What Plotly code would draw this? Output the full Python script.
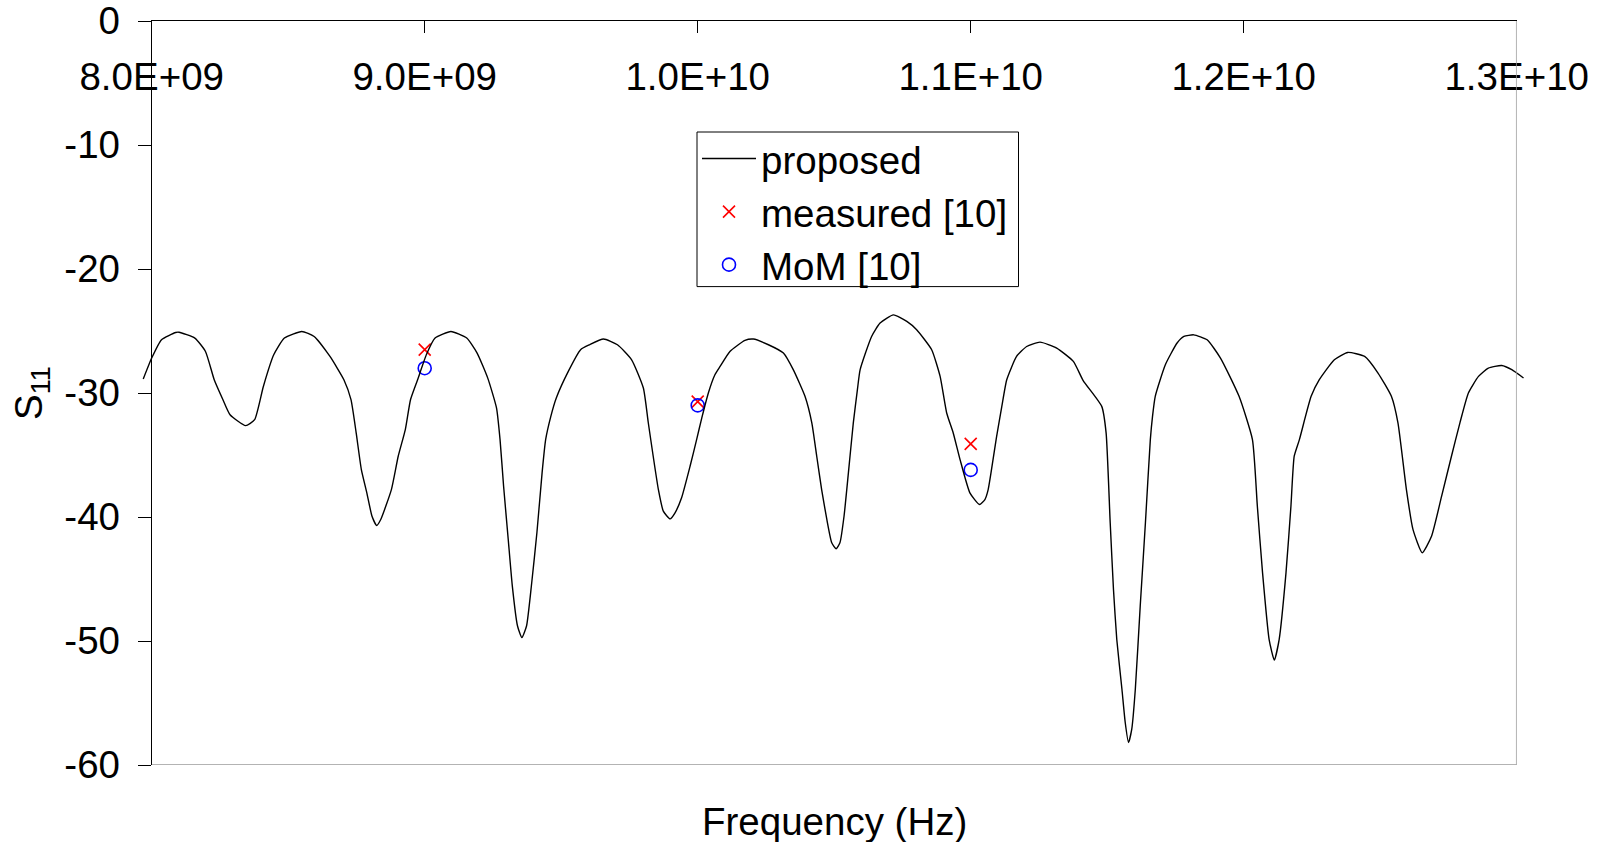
import plotly.graph_objects as go

# ---- data (frequency in GHz, S11 in dB) ----
freq_ghz = [7.969, 8.000, 8.036, 8.088, 8.100, 8.158, 8.197, 8.229, 8.261, 8.287, 8.344, 8.377, 8.409, 8.447,
            8.486, 8.550, 8.595, 8.653, 8.704, 8.730, 8.749, 8.768, 8.788, 8.807, 8.824, 8.839, 8.878, 8.903,
            8.929, 8.948, 8.974, 9.006, 9.038, 9.096, 9.154, 9.192, 9.231, 9.263, 9.276, 9.289, 9.306, 9.321,
            9.340, 9.356, 9.373, 9.392, 9.411, 9.430, 9.443, 9.462, 9.482, 9.526, 9.571, 9.604, 9.655, 9.706,
            9.758, 9.801, 9.819, 9.837, 9.856, 9.874, 9.899, 9.917, 9.941, 9.972, 9.996, 10.015, 10.039, 10.063,
            10.082, 10.118, 10.173, 10.204, 10.259, 10.314, 10.350, 10.393, 10.418, 10.436, 10.454, 10.473,
            10.491, 10.507, 10.521, 10.536, 10.552, 10.570, 10.585, 10.595, 10.637, 10.668, 10.717, 10.766,
            10.802, 10.857, 10.888, 10.912, 10.936, 10.961, 10.997, 11.032, 11.052, 11.064, 11.095, 11.114,
            11.132, 11.168, 11.205, 11.254, 11.315, 11.376, 11.412, 11.480, 11.496, 11.511, 11.523, 11.535,
            11.554, 11.566, 11.578, 11.590, 11.603, 11.621, 11.640, 11.658, 11.666, 11.676, 11.713, 11.756,
            11.781, 11.817, 11.866, 11.915, 11.983, 12.032, 12.050, 12.069, 12.093, 12.112, 12.130, 12.155,
            12.173, 12.185, 12.204, 12.247, 12.277, 12.332, 12.381, 12.443, 12.492, 12.541, 12.565, 12.596,
            12.620, 12.654, 12.688, 12.725, 12.761, 12.792, 12.823, 12.860, 12.896, 12.945, 12.982, 13.025]
s11_proposed = [-28.87, -27.18, -25.70, -25.12, -25.10, -25.57, -26.65, -28.93, -30.54, -31.75, -32.63, -32.15,
                -29.47, -26.92, -25.57, -25.04, -25.44, -27.05, -28.93, -30.54, -33.22, -36.18, -38.05, -39.94,
                -40.68, -40.20, -37.79, -35.10, -32.95, -30.54, -28.93, -26.92, -25.57, -25.04, -25.57, -26.78,
                -28.80, -31.20, -33.76, -37.52, -41.81, -45.57, -48.79, -49.73, -48.79, -45.30, -41.27, -36.44,
                -33.76, -31.88, -30.40, -28.26, -26.51, -26.11, -25.65, -26.11, -27.32, -29.60, -32.40, -35.10,
                -37.79, -39.53, -40.15, -39.66, -38.45, -35.91, -33.76, -32.01, -30.00, -28.53, -27.86, -26.65,
                -25.76, -25.65, -26.11, -26.78, -28.12, -30.27, -32.41, -35.10, -37.79, -40.20, -42.08, -42.56,
                -42.08, -39.94, -36.44, -32.41, -29.73, -28.12, -25.44, -24.36, -23.70, -24.23, -24.90, -26.51,
                -28.66, -31.61, -33.22, -35.37, -38.05, -38.99, -38.59, -37.79, -33.49, -31.08, -28.93, -27.05,
                -26.25, -25.90, -26.38, -27.45, -29.00, -31.08, -33.22, -40.47, -45.84, -49.86, -53.89, -56.57,
                -58.18, -57.10, -53.89, -47.18, -40.47, -33.76, -31.88, -30.27, -27.72, -25.97, -25.44, -25.31,
                -25.71, -27.18, -30.27, -33.76, -39.13, -44.49, -49.86, -51.53, -49.86, -44.49, -39.13, -35.10,
                -33.76, -30.27, -28.93, -27.32, -26.73, -27.05, -28.39, -30.27, -32.41, -37.79, -41.00, -42.88,
                -41.55, -38.32, -35.10, -32.41, -30.00, -28.66, -27.99, -27.78, -28.12, -28.79]

point_freq_hz = [9.0e9, 1.0e10, 1.1e10]
s11_measured = [-26.5, -30.7, -34.1]
s11_mom = [-28.0, -31.0, -36.2]

x_tickvals = [8.0e9, 9.0e9, 1.0e10, 1.1e10, 1.2e10, 1.3e10]
x_ticktext = ["8.0E+09", "9.0E+09", "1.0E+10", "1.1E+10", "1.2E+10", "1.3E+10"]
y_tickvals = [0, -10, -20, -30, -40, -50, -60]
y_ticktext = ["0", "-10", "-20", "-30", "-40", "-50", "-60"]

freq_hz = [f * 1e9 for f in freq_ghz]

# ---- layout geometry ----
W, H = 1605, 842
ML, MR, MT, MB = 142, 78, 21, 77
PW = W - ML - MR
PH = H - MT - MB
ax_left, ax_right = 151.7, 1516.7
d0 = (ax_left - ML) / PW
d1 = (ax_right - ML) / PW
x0, x1 = 8.0e9, 1.3e10
span = x1 - x0
per = span / (d1 - d0)
x2_range = [x0 - d0 * per, x1 + (1 - d1) * per]


def px_x(p):
    return (p - ML) / PW


def px_y(p):
    return 1 - (p - MT) / PH


FONT = "Arial, Liberation Sans, sans-serif"
FS = 38.5

fig = go.Figure()
fig.add_trace(go.Scatter(x=freq_hz, y=s11_proposed, mode="lines", name="proposed",
                         line=dict(color="black", width=1.4, shape="spline", smoothing=0.5),
                         xaxis="x2", yaxis="y"))
fig.add_trace(go.Scatter(x=point_freq_hz, y=s11_measured, mode="markers", name="measured [10]",
                         marker=dict(symbol="x-thin", size=12, line=dict(color="red", width=1.6), color="red"),
                         cliponaxis=False))
fig.add_trace(go.Scatter(x=point_freq_hz, y=s11_mom, mode="markers", name="MoM [10]",
                         marker=dict(symbol="circle-open", size=13, color="blue", line=dict(color="blue", width=1.6)),
                         cliponaxis=False))

fig.update_layout(
    width=W, height=H,
    margin=dict(l=ML, r=MR, t=MT, b=MB, autoexpand=False),
    paper_bgcolor="white", plot_bgcolor="rgba(0,0,0,0)",
    font=dict(family=FONT, size=FS, color="black"),
    showlegend=True,
    legend=dict(x=px_x(697), y=px_y(127), xanchor="left", yanchor="top",
                borderwidth=0, bgcolor="rgba(0,0,0,0)", itemwidth=54,
                font=dict(family=FONT, size=FS, color="black")),
    xaxis=dict(domain=[d0, d1], range=[x0, x1], side="top", anchor="y", automargin=False,
               showline=True, linecolor="black", linewidth=1,
               ticks="inside", ticklen=12, tickcolor="black", tickwidth=1,
               tickvals=x_tickvals, ticktext=x_ticktext,
               ticklabelposition="inside", ticklabelstandoff=35, ticklabeloverflow="allow",
               showgrid=False, zeroline=False,
               tickfont=dict(family=FONT, size=FS, color="black")),
    xaxis2=dict(domain=[0, 1], range=x2_range, anchor="y", visible=False, automargin=False,
                showgrid=False, zeroline=False),
    yaxis=dict(domain=[0, 1], range=[-60, 0], anchor="x", automargin=False,
               showline=True, linecolor="black", linewidth=1,
               ticks="outside", ticklen=13, tickcolor="black", tickwidth=1,
               tickvals=y_tickvals, ticktext=y_ticktext, ticklabeloverflow="allow",
               ticklabelstandoff=10,
               showgrid=False, zeroline=False,
               tickfont=dict(family=FONT, size=FS, color="black")),
    shapes=[
        dict(type="line", xref="x", yref="y", x0=x0, x1=x1, y0=-60, y1=-60,
             line=dict(color="#9a9a9a", width=1.5)),
        dict(type="line", xref="x", yref="y", x0=x1, x1=x1, y0=-60, y1=0,
             line=dict(color="#9a9a9a", width=1.5)),
        dict(type="rect", xref="paper", yref="paper",
             x0=px_x(697), x1=px_x(1018.5), y0=px_y(286.6), y1=px_y(132),
             line=dict(color="black", width=1), fillcolor="rgba(0,0,0,0)", layer="above"),
    ],
    annotations=[
        dict(text="Frequency (Hz)", xref="paper", yref="paper",
             x=px_x((ax_left + ax_right) / 2), y=px_y(821),
             xanchor="center", yanchor="middle", showarrow=False,
             font=dict(family=FONT, size=FS, color="black")),
        dict(text="S<sub>11</sub>", xref="paper", yref="paper",
             x=px_x(31), y=0.5, textangle=-90,
             xanchor="center", yanchor="middle", showarrow=False,
             font=dict(family=FONT, size=FS, color="black")),
    ],
)

fig.write_html("out.html", config={"displayModeBar": False},
               post_script="document.body.style.margin='0px';document.body.style.padding='0px';")
